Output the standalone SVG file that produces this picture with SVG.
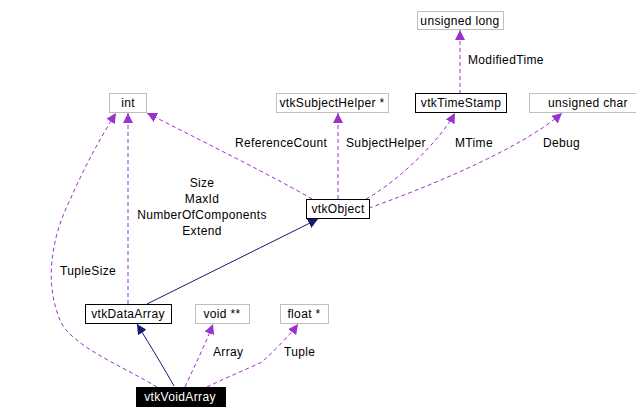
<svg xmlns="http://www.w3.org/2000/svg" width="636" height="418" viewBox="0 0 636 418">
<style>
.n rect{fill:#fff;stroke:#bfbfbf;stroke-width:1}
.n.k rect{stroke:#000}
.n.b rect{fill:#000;stroke:#000}
text{font-family:"Liberation Sans",Arial,sans-serif;font-size:12px;letter-spacing:0.35px;fill:#000}
.n text{text-anchor:middle}
.n.b text{fill:#fff}
.e{fill:none;stroke:#9a32cd;stroke-dasharray:4,3;marker-end:url(#ap)}
.i{fill:none;stroke:#191970;marker-end:url(#an)}
.l{text-anchor:middle}
</style>
<defs>
<marker id="ap" markerUnits="userSpaceOnUse" markerWidth="11" markerHeight="10" refX="10" refY="5" orient="auto"><path d="M0,0 L10,5 L0,10 z" fill="#9a32cd"/></marker>
<marker id="an" markerUnits="userSpaceOnUse" markerWidth="11" markerHeight="10" refX="10" refY="5" orient="auto"><path d="M0,0 L10,5 L0,10 z" fill="#191970"/></marker>
</defs>
<rect width="636" height="418" fill="#fff"/>
<g id="edges">
<path class="i" d="M174,386 C165,370 150,345 137,324"/>
<path class="i" d="M147,304 L318,219"/>
<path class="e" d="M157,387 C120,365 70,345 60,320 C45,285 50,240 70,200 C85,165 105,130 116,113"/>
<path class="e" d="M128,304 L128,113"/>
<path class="e" d="M312,199 C280,180 200,140 147,113"/>
<path class="e" d="M338,199 L338,113"/>
<path class="e" d="M366,199 C400,180 440,140 455,113"/>
<path class="e" d="M369,208 C420,190 520,150 562,113"/>
<path class="e" d="M460,94 L460,30"/>
<path class="e" d="M185,387 C195,365 205,345 213,324"/>
<path class="e" d="M207,387 C225,378 245,370 262,362 C275,350 290,335 298,324"/>
<text x="468" y="64">ModifiedTime</text>
<text x="235" y="147">ReferenceCount</text>
<text x="346" y="147">SubjectHelper</text>
<text x="455" y="147">MTime</text>
<text x="543" y="147">Debug</text>
<text class="l" x="202" y="187">Size</text>
<text class="l" x="202" y="203">MaxId</text>
<text class="l" x="202" y="219">NumberOfComponents</text>
<text class="l" x="202" y="235">Extend</text>
<text x="60" y="275">TupleSize</text>
<text x="213" y="356">Array</text>
<text x="284" y="356">Tuple</text>
</g>
<g id="unsigned_long" class="n"><rect x="417.5" y="11.5" width="86" height="18"/><text x="460" y="25">unsigned long</text></g>
<g id="int" class="n"><rect x="109.5" y="93.5" width="37" height="19"/><text x="128" y="107">int</text></g>
<g id="vtkSubjectHelper" class="n"><rect x="276.5" y="93.5" width="112" height="19"/><text x="332" y="107">vtkSubjectHelper *</text></g>
<g id="vtkTimeStamp" class="n k"><rect x="415.5" y="93.5" width="91" height="19"/><text x="461" y="107">vtkTimeStamp</text></g>
<g id="unsigned_char" class="n"><rect x="529.5" y="93.5" width="115" height="19"/><text x="588" y="107">unsigned char</text></g>
<g id="vtkObject" class="n k"><rect x="306.5" y="199.5" width="63" height="19"/><text x="338" y="213">vtkObject</text></g>
<g id="vtkDataArray" class="n k"><rect x="85.5" y="304.5" width="86" height="19"/><text x="128" y="318">vtkDataArray</text></g>
<g id="void" class="n"><rect x="195.5" y="304.5" width="54" height="19"/><text x="222" y="318">void **</text></g>
<g id="float" class="n"><rect x="280.5" y="304.5" width="48" height="19"/><text x="304" y="318">float *</text></g>
<g id="vtkVoidArray" class="n b"><rect x="136.5" y="387.5" width="89" height="19"/><text x="180" y="401">vtkVoidArray</text></g>
</svg>
